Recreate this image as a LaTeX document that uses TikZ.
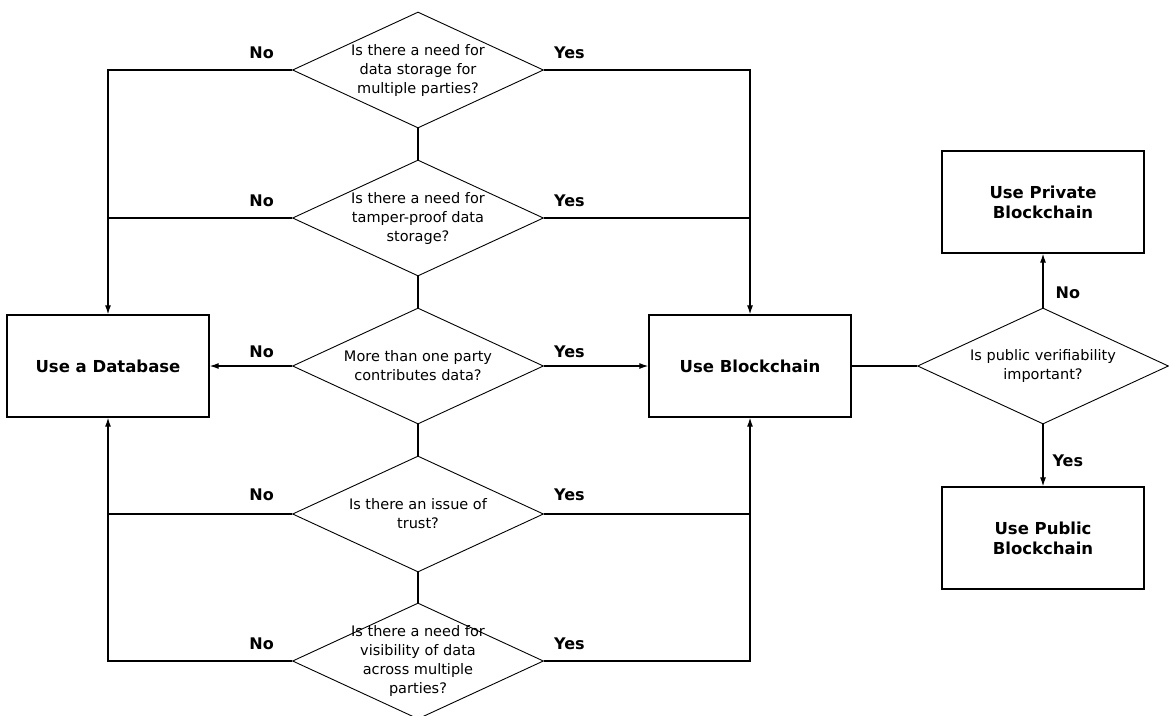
\documentclass[tikz,border=0pt]{standalone}
\usepackage{fontspec}
\setmainfont{DejaVu Sans}
\usetikzlibrary{shapes.geometric, positioning, arrows.meta}

\begin{document}
\begin{tikzpicture}[
        x=1pt, y=-1pt,
        decision/.style={diamond, draw, line width=0.9pt, minimum width=251pt, minimum height=116pt, inner sep=0pt},
        question/.style={align=center, font=\fontsize{14.5}{19}\selectfont, inner sep=0pt},
        process/.style={rectangle, draw, line width=1.3pt, minimum width=202pt, minimum height=102pt, align=center, font=\fontsize{16.5}{20}\selectfont\bfseries},
        answer/.style={font=\fontsize{16}{18}\selectfont\bfseries, inner sep=0pt},
        line/.style={line width=1.2pt},
        arrow/.style={-{Latex[length=9pt, width=6pt]}, line width=1.2pt}
    ]
    \useasboundingbox (0,0) rectangle (1169,715);
    % Nodes
    \node[decision] (q1) at (418,70) {};
    \node[question] (q1t) at (q1) {Is there a need for\\data storage for\\multiple parties?};
    \node[decision] (q2) at (418,218) {};
    \node[question] (q2t) at (q2) {Is there a need for\\tamper-proof data\\storage?};
    \node[decision] (q3) at (418,366) {};
    \node[question] (q3t) at (q3) {More than one party\\contributes data?};
    \node[decision] (q4) at (418,514) {};
    \node[question] (q4t) at (q4) {Is there an issue of\\trust?};
    \node[decision] (q5) at (418,661) {};
    \node[question] (q5t) at (q5) {Is there a need for\\visibility of data\\across multiple\\parties?};
    \node[process] (db) at (108,366) {Use a Database};
    \node[process] (bc) at (750,366) {Use Blockchain};
    \node[decision] (pv) at (1043,366) {};
    \node[question] (pvt) at (pv) {Is public verifiability\\important?};
    \node[process] (priv) at (1043,202) {Use Private\\Blockchain};
    \node[process] (pub) at (1043,538) {Use Public\\Blockchain};
    % Answers
    \node[answer, above left=11pt and 18pt of q1.west] (no1) {No};
    \node[answer, above right=11pt and 10pt of q1.east] (yes1) {Yes};
    \node[answer, above left=11pt and 18pt of q2.west] (no2) {No};
    \node[answer, above right=11pt and 10pt of q2.east] (yes2) {Yes};
    \node[answer, above left=8pt and 18pt of q3.west] (no3) {No};
    \node[answer, above right=8pt and 10pt of q3.east] (yes3) {Yes};
    \node[answer, above left=13pt and 18pt of q4.west] (no4) {No};
    \node[answer, above right=13pt and 10pt of q4.east] (yes4) {Yes};
    \node[answer, above left=11pt and 18pt of q5.west] (no5) {No};
    \node[answer, above right=11pt and 10pt of q5.east] (yes5) {Yes};
    % Edges
    \draw[line] (q1.south) -- (q2.north);
    \draw[line] (q2.south) -- (q3.north);
    \draw[line] (q3.south) -- (q4.north);
    \draw[line] (q4.south) -- (q5.north);
    \draw[arrow] (q1.west) -| (db.north);
    \draw[line] (q2.west) -- (q2.west -| db.north);
    \draw[arrow] (q3.west) -- (db.east);
    \draw[line] (q4.west) -- (q4.west -| db.south);
    \draw[arrow] (q5.west) -| (db.south);
    \draw[arrow] (q1.east) -| (bc.north);
    \draw[line] (q2.east) -- (q2.east -| bc.north);
    \draw[arrow] (q3.east) -- (bc.west);
    \draw[line] (q4.east) -- (q4.east -| bc.south);
    \draw[arrow] (q5.east) -| (bc.south);
    \draw[line] (bc.east) -- (pv.west);
    \draw[arrow] (pv.north) -- node[answer, pos=0.27, right=12pt] (no6) {No} (priv.south);
    \draw[arrow] (pv.south) -- node[answer, pos=0.59, right=9pt] (yes6) {Yes} (pub.north);
\end{tikzpicture}
\end{document}
